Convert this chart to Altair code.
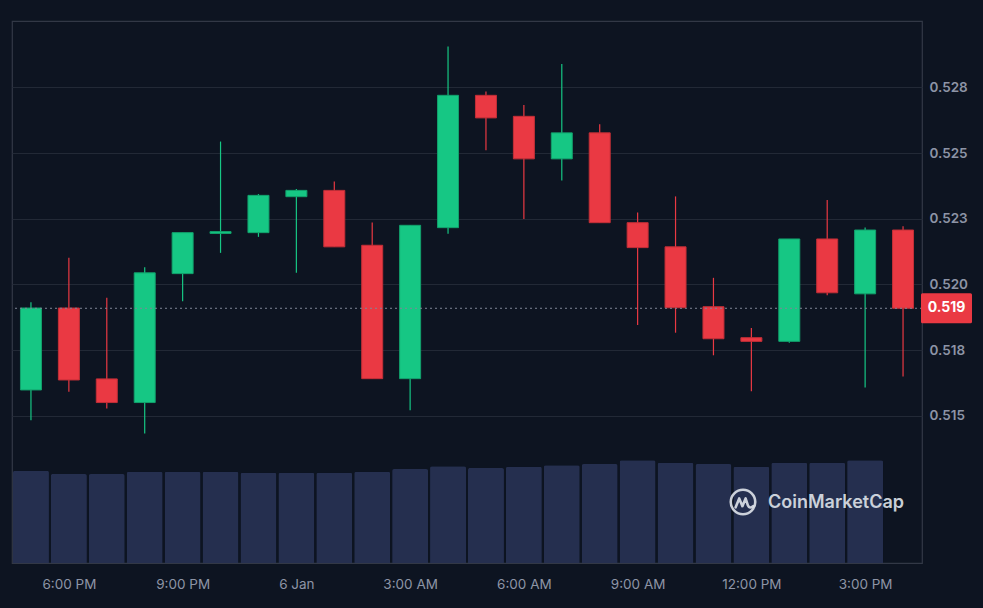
import altair as alt
import pandas as pd

# ---------------- data ----------------
times = pd.date_range("2025-01-05 17:00", periods=24, freq="h", tz="UTC")
t_iso = [t.strftime("%Y-%m-%dT%H:%M:%SZ") for t in times]

opens = [0.51598, 0.51910, 0.51640, 0.51550, 0.52041, 0.52194, 0.52197, 0.52334,
         0.52358, 0.52149, 0.51641, 0.52216, 0.52720, 0.52640, 0.52478, 0.52577,
         0.52235, 0.52143, 0.51915, 0.51797, 0.51783, 0.52173, 0.51964, 0.52207]
highs = [0.51932, 0.52101, 0.51949, 0.52065, 0.52197, 0.52544, 0.52344, 0.52363,
         0.52392, 0.52236, 0.52225, 0.52906, 0.52735, 0.52683, 0.52839, 0.52610,
         0.52274, 0.52335, 0.52025, 0.51834, 0.52173, 0.52321, 0.52217, 0.52221]
lows = [0.51483, 0.51591, 0.51527, 0.51432, 0.51936, 0.52120, 0.52181, 0.52044,
        0.52143, 0.51641, 0.51521, 0.52193, 0.52511, 0.52249, 0.52396, 0.52235,
        0.51845, 0.51816, 0.51730, 0.51593, 0.51778, 0.51959, 0.51607, 0.51649]
closes = [0.51910, 0.51636, 0.51550, 0.52044, 0.52197, 0.52201, 0.52339, 0.52358,
          0.52143, 0.51641, 0.52225, 0.52720, 0.52634, 0.52478, 0.52577, 0.52235,
          0.52140, 0.51911, 0.51793, 0.51783, 0.52173, 0.51968, 0.52207, 0.51909]
# hourly volume (M), one bar per completed hour
volumes = [18.46, 17.80, 17.80, 18.26, 18.26, 18.26, 18.06, 18.06, 18.06, 18.26,
           18.80, 19.34, 19.00, 19.26, 19.54, 19.80, 20.54, 20.06, 19.80, 19.26,
           20.06, 20.06, 20.54]
last_price = 0.51909

y_ticks = [0.515, 0.5175, 0.520, 0.5225, 0.525, 0.5275]
x_ticks = ["2025-01-05T18:00:00Z", "2025-01-05T21:00:00Z", "2025-01-06T00:00:00Z",
           "2025-01-06T03:00:00Z", "2025-01-06T06:00:00Z", "2025-01-06T09:00:00Z",
           "2025-01-06T12:00:00Z", "2025-01-06T15:00:00Z"]
x_domain = ["2025-01-05T16:30:00Z", "2025-01-06T16:30:00Z"]
y_domain = [0.50939, 0.53003]
vol_domain = [0, 108.46]

# ---------------- style ----------------
BG = "#0d1421"
GREEN = "#16c784"
RED = "#ea3943"
GREEN_EDGE = "#12a16c"
RED_EDGE = "#c22f37"
VOL = "#252f4f"
LABEL = "#8d94a6"
GRID = "#222936"
FRAME = "#323846"
FONT = "Inter"

def ms(s):
    return int(pd.Timestamp(s).value // 10**6)

df = pd.DataFrame({
    "t": t_iso, "open": opens, "high": highs, "low": lows, "close": closes,
})
df["dir"] = ["up" if c >= o else "down" for o, c in zip(opens, closes)]
vdf = pd.DataFrame({"t": t_iso[:len(volumes)], "volume": volumes})
pdf = pd.DataFrame({"p": [last_price]})
one = pd.DataFrame({"k": [0]})

x_enc = alt.X(
    "t:T",
    scale=alt.Scale(type="utc", domain=[ms(x_domain[0]), ms(x_domain[1])], padding=0),
    axis=alt.Axis(
        values=[ms(v) for v in x_ticks],
        labelExpr="utchours(datum.value) == 0 ? utcFormat(datum.value, '%-d %b') : utcFormat(datum.value, '%-I:%M %p')",
        grid=False, ticks=False, domain=False, labelPadding=14,
        labelColor=LABEL, labelFont=FONT, labelFontSize=13.5, labelFlush=False,
        title=None,
    ),
)
yscale = alt.Scale(domain=y_domain, nice=False, zero=False)
color_enc = alt.Color("dir:N", scale=alt.Scale(domain=["up", "down"], range=[GREEN, RED]), legend=None)
stroke_enc = alt.Stroke("dir:N", scale=alt.Scale(domain=["up", "down"], range=[GREEN_EDGE, RED_EDGE]), legend=None)

volume = alt.Chart(vdf).mark_bar(
    size=36, color=VOL, cornerRadiusTopLeft=2, cornerRadiusTopRight=2
).encode(
    x=x_enc,
    y=alt.Y("volume:Q", scale=alt.Scale(domain=vol_domain, nice=False), axis=None),
)

wick = alt.Chart(df).mark_rule(strokeWidth=1.2).encode(
    x=x_enc,
    y=alt.Y("low:Q", scale=yscale,
            axis=alt.Axis(orient="right", values=y_ticks,
                          labelExpr="format(datum.value + 0.00001, '.3f')",
                          grid=True, gridColor=GRID, gridWidth=1,
                          ticks=False, domain=False, labelPadding=7,
                          labelColor=LABEL, labelFont=FONT, labelFontSize=13.5,
                          labelFontWeight=600, title=None)),
    y2="high:Q",
    color=color_enc,
)

body = alt.Chart(df).mark_bar(size=21, strokeWidth=1).encode(
    x=x_enc,
    y=alt.Y("open:Q", scale=yscale),
    y2="close:Q",
    color=color_enc,
    stroke=stroke_enc,
)

price_line = alt.Chart(pdf).mark_rule(
    strokeDash=[2, 3], color="#7f8698", strokeWidth=1
).encode(y=alt.Y("p:Q", scale=yscale))

tag_path = "M -1 -0.5625 L 1 -0.5625 L 1 0.5625 L -1 0.5625 Z"
price_box = alt.Chart(pdf).mark_point(
    shape=tag_path, size=2304, filled=True, fill=RED, stroke=RED,
    strokeWidth=3, strokeJoin="round", opacity=1,
).encode(x=alt.value(934.5), y=alt.Y("p:Q", scale=yscale))

price_text = alt.Chart(pdf).mark_text(
    color="white", font=FONT, fontSize=14, fontWeight="bold",
    align="center", baseline="middle",
).encode(x=alt.value(934.5), y=alt.Y("p:Q", scale=yscale),
         text=alt.Text("p:Q", format=".3f"))

WM = "#dfe3ea"
logo_ring = alt.Chart(one).mark_point(
    shape="circle", filled=False, size=600, stroke=WM, strokeWidth=2.6, opacity=0.9,
).encode(x=alt.value(731), y=alt.value(481))
wave_path = "M -0.62 0.45 L -0.32 -0.3 L -0.05 0.35 L 0.22 -0.3 L 0.42 0.3 Q 0.55 0.6 0.85 0.35"
logo_wave = alt.Chart(one).mark_point(
    shape=wave_path, filled=False, size=560, stroke=WM, strokeWidth=2.6,
    strokeJoin="round", strokeCap="round", opacity=0.9,
).encode(x=alt.value(731), y=alt.value(481))
wm_text = alt.Chart(one).mark_text(
    text="CoinMarketCap", font=FONT, fontSize=18, fontWeight=600, color=WM,
    opacity=0.9, align="left", baseline="middle",
).encode(x=alt.value(756), y=alt.value(482))

price_layers = alt.layer(wick, body, price_line, price_box, price_text,
                         logo_ring, logo_wave, wm_text)

chart = alt.layer(volume, price_layers).resolve_scale(y="independent").properties(
    width=910, height=542,
    background=BG,
    autosize=alt.AutoSizeParams(type="none"),
    padding={"left": 12, "top": 21, "right": 61, "bottom": 45},
).configure_view(stroke=FRAME, strokeWidth=1.2)

chart.save("out.html", embed_options={"renderer": "svg", "actions": False})
